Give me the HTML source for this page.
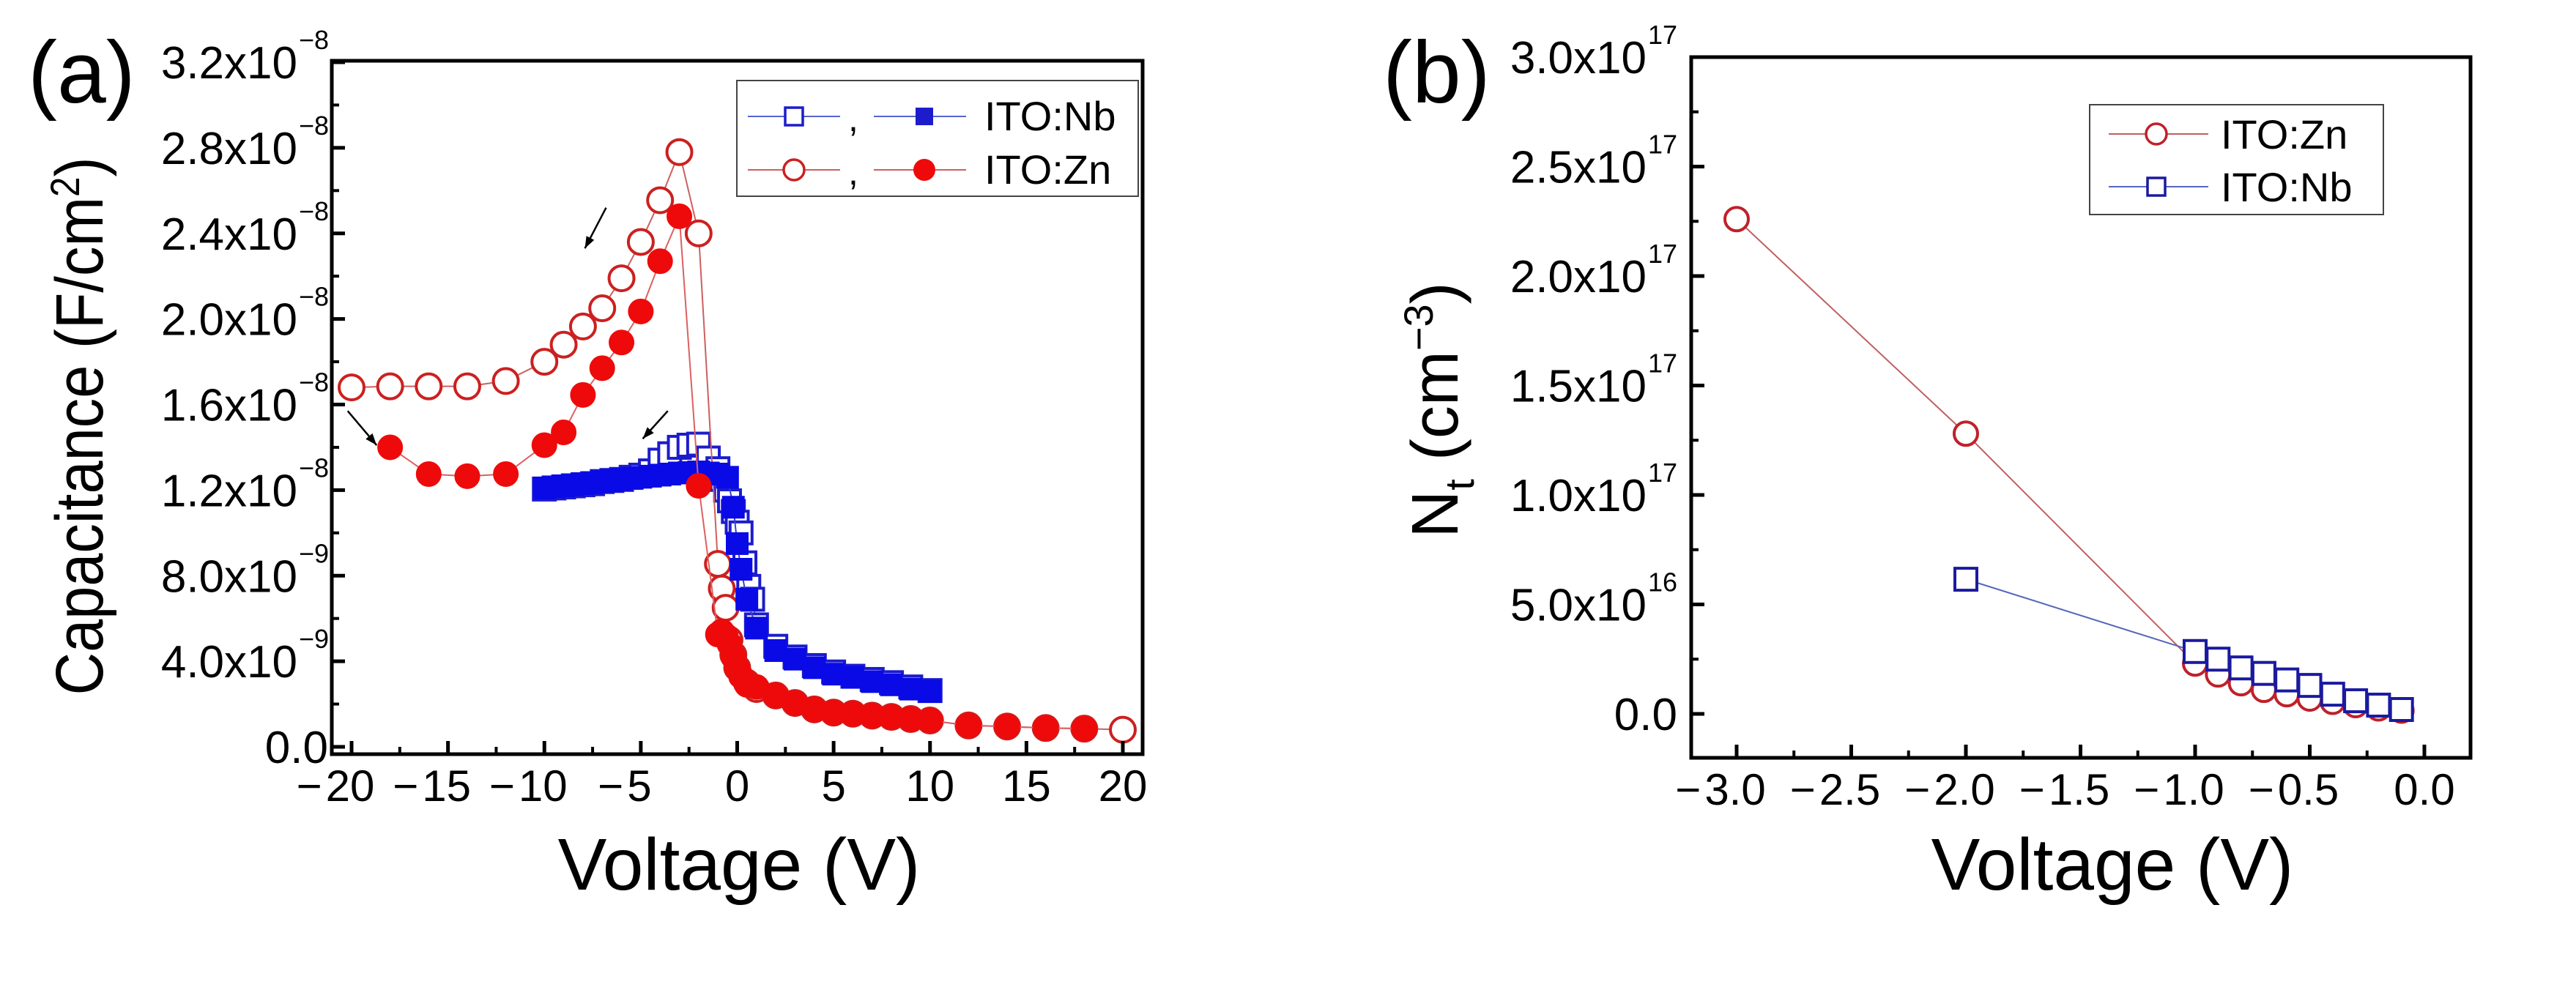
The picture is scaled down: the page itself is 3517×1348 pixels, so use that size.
<!DOCTYPE html>
<html><head><meta charset="utf-8"><style>
html,body{margin:0;padding:0;background:#fff;}
svg{display:block;font-family:"Liberation Sans",Arial,sans-serif;}
</style></head><body>
<svg id="fig" width="3517" height="1348" viewBox="0 0 3517 1348" xmlns="http://www.w3.org/2000/svg">
<rect width="3517" height="1348" fill="#fff"/>
<g id="pa"></g>
<g id="pb"></g>
</svg>
<script>
// ---- Panel (a) data: capacitance (units 1e-8 F/cm2) ----
const znOpenV = [-20,-18,-16,-14,-12,-10,-9,-8,-7,-6,-5,-4,-3,-2,-1,-0.8,-0.6,-0.4,-0.2,0,0.5,1,2,3,4,5,6,7,8,9,10,12,14,16,18,20];
const znOpenC = [1.68,1.685,1.685,1.685,1.71,1.80,1.88,1.965,2.05,2.19,2.36,2.555,2.78,2.40,0.855,0.74,0.65,0.50,0.43,0.37,0.30,0.27,0.24,0.205,0.175,0.16,0.155,0.146,0.14,0.13,0.123,0.10,0.095,0.088,0.085,0.08];
const znFillV = [-18,-16,-14,-12,-10,-9,-8,-7,-6,-5,-4,-3,-2,-1,-0.8,-0.6,-0.4,-0.2,0,0.2,0.5,1,2,3,4,5,6,7,8,9,10,12,14,16,18];
const znFillC = [1.40,1.275,1.265,1.275,1.41,1.47,1.645,1.77,1.89,2.035,2.27,2.48,1.22,0.525,0.54,0.52,0.48,0.42,0.365,0.33,0.29,0.28,0.24,0.205,0.175,0.16,0.155,0.146,0.14,0.13,0.123,0.10,0.095,0.088,0.085];
const nbOpenV = [-10,-9.5,-9,-8.5,-8,-7.5,-7,-6.5,-6,-5.5,-5,-4.5,-4,-3.5,-3,-2.5,-2,-1.5,-1,-0.8,-0.6,-0.4,-0.2,0,0.2,0.4,0.6,0.8,1,2,3,4,5,6,7,8,9,10];
const nbOpenC = [1.205,1.21,1.215,1.22,1.225,1.23,1.24,1.245,1.25,1.26,1.27,1.29,1.34,1.37,1.40,1.41,1.415,1.35,1.30,1.25,1.20,1.15,1.10,1.05,1.00,0.86,0.75,0.69,0.57,0.47,0.42,0.38,0.35,0.33,0.315,0.30,0.28,0.263];
const nbFillV = [-10,-9.5,-9,-8.5,-8,-7.5,-7,-6.5,-6,-5.5,-5,-4.5,-4,-3.5,-3,-2.5,-2,-1.5,-1,-0.5,-0.2,0,0.2,0.5,1,2,3,4,5,6,7,8,9,10];
const nbFillC = [1.21,1.215,1.22,1.225,1.23,1.235,1.24,1.245,1.25,1.255,1.26,1.265,1.27,1.275,1.28,1.282,1.285,1.28,1.275,1.26,1.12,0.95,0.83,0.69,0.555,0.45,0.41,0.37,0.34,0.325,0.305,0.29,0.27,0.26];
const aXTicks = [-20,-15,-10,-5,0,5,10,15,20];
const aXLabels = ["\u2212\u200a20","\u2212\u200a15","\u2212\u200a10","\u2212\u200a5","0","5","10","15","20"];
const aYTicks = [0,0.4,0.8,1.2,1.6,2.0,2.4,2.8,3.2];
const aYMant = ["0.0","4.0x10","8.0x10","1.2x10","1.6x10","2.0x10","2.4x10","2.8x10","3.2x10"];
const aYExp = ["","-9","-9","-8","-8","-8","-8","-8","-8"];
// ---- Panel (b) data: Nt (units 1e17 cm-3) ----
const bZnV = [-3,-2,-1,-0.9,-0.8,-0.7,-0.6,-0.5,-0.4,-0.3,-0.2,-0.1];
const bZnN = [2.26,1.28,0.23,0.18,0.14,0.11,0.09,0.07,0.055,0.04,0.025,0.015];
const bNbV = [-2,-1,-0.9,-0.8,-0.7,-0.6,-0.5,-0.4,-0.3,-0.2,-0.1];
const bNbN = [0.615,0.285,0.25,0.21,0.185,0.155,0.13,0.09,0.06,0.04,0.02];
const bXTicks = [-3,-2.5,-2,-1.5,-1,-0.5,0];
const bXLabels = ["\u2212\u200a3.0","\u2212\u200a2.5","\u2212\u200a2.0","\u2212\u200a1.5","\u2212\u200a1.0","\u2212\u200a0.5","0.0"];
const bYTicks = [0,0.5,1,1.5,2,2.5,3];
const bYMant = ["0.0","5.0x10","1.0x10","1.5x10","2.0x10","2.5x10","3.0x10"];
const bYExp = ["","16","17","17","17","17","17"];

const NS="http://www.w3.org/2000/svg";
function mk(tag,attrs,parent){const e=document.createElementNS(NS,tag);for(const k in attrs)e.setAttribute(k,attrs[k]);parent.appendChild(e);return e;}
function lin(d0,d1,r0,r1){return v=>r0+(v-d0)*(r1-r0)/(d1-d0);}

const ax=lin(-20,20,480,1533), ay=lin(0,3.2,1020,85);
const bx=lin(-3,0,2371,3310), by=lin(0,3,975,78);

function frame(g,x0,y0,x1,y1){
  const r=mk('rect',{x:x0,y:y0,width:x1-x0,height:y1-y0,fill:'none',stroke:'#000','stroke-width':5},g);
  
  
}
function xAxis(g,sx,ticks,labels,minorStep,y1,lo,hi){
  for(let i=0;i<ticks.length;i++){
    const x=sx(ticks[i]);
    const t=mk('line',{x1:x,x2:x,y1:y1,y2:y1-18,stroke:'#000','stroke-width':5},g);
    
    
    const l=mk('text',{x:x-(labels[i][0]=='\u2212'?22:0),y:y1+64,'font-size':60,'text-anchor':'middle',fill:'#000'},g);
    l.textContent=labels[i];
    
    
  }
  for(let v=lo;v<=hi+1e-9;v+=minorStep){
    if(ticks.some(t=>Math.abs(t-v)<1e-6))continue;
    const x=sx(v);
    const t=mk('line',{x1:x,x2:x,y1:y1,y2:y1-10,stroke:'#000','stroke-width':4},g);
    
    
  }
}
function yAxis(g,sy,ticks,mant,exps,minorStep,x0,lo,hi,labelRight){
  for(let i=0;i<ticks.length;i++){
    const y=sy(ticks[i]);
    const t=mk('line',{x1:x0,x2:x0+18,y1:y,y2:y,stroke:'#000','stroke-width':5},g);
    
    
    const l=mk('text',{x:exps[i]?labelRight-34:labelRight+8,y:y+22,'font-size':62,'text-anchor':'end',fill:'#000'},g);
    l.textContent=mant[i];
    
    
    if(exps[i]){
      const e=mk('text',{x:labelRight-32,y:y-18,'font-size':36,'text-anchor':'start',fill:'#000'},g);
      e.textContent=exps[i].replace('-','\u2212');
      
      
    }
  }
  for(let v=lo;v<=hi+1e-9;v+=minorStep){
    if(ticks.some(t=>Math.abs(t-v)<1e-6))continue;
    const y=sy(v);
    const t=mk('line',{x1:x0,x2:x0+10,y1:y,y2:y,stroke:'#000','stroke-width':4},g);
    
    
  }
}
function series(g,sx,sy,xs,ys,color,lineColor,kind,filled,r,name){
  const pts=xs.map((v,i)=>sx(v)+','+sy(ys[i])).join(' ');
  const pl=mk('polyline',{points:pts,fill:'none',stroke:lineColor,'stroke-width':2},g);
  
  
  for(let i=0;i<xs.length;i++){
    const x=sx(xs[i]),y=sy(ys[i]);let m;
    if(kind==='c') m=mk('circle',{cx:x,cy:y,r:r,fill:filled?color:'#fff',stroke:color,'stroke-width':filled?1:4},g);
    else m=mk('rect',{x:x-r,y:y-r,width:2*r,height:2*r,fill:filled?color:'#fff',stroke:color,'stroke-width':filled?1:4},g);
    
    
  }
}
function txt(g,x,y,s,size,name,extra){
  const t=mk('text',Object.assign({x:x,y:y,'font-size':size,fill:'#000'},extra||{}),g);
  t.textContent=s;
  
  
  return t;
}
function arrow(g,x1,y1,x2,y2){
  const l=mk('line',{x1:x1,y1:y1,x2:x2,y2:y2,stroke:'#000','stroke-width':2.5},g);
  
  
  const a=Math.atan2(y2-y1,x2-x1),L=16,W=6;
  const p=[[x2,y2],[x2-L*Math.cos(a)+W*Math.sin(a),y2-L*Math.sin(a)-W*Math.cos(a)],[x2-L*Math.cos(a)-W*Math.sin(a),y2-L*Math.sin(a)+W*Math.cos(a)]];
  const h=mk('polygon',{points:p.map(q=>q.join(',')).join(' '),fill:'#000'},g);
  
  
}

// ---- Panel A ----
const ga=document.getElementById('pa');
txt(ga,38,140,'(a)',120,'panel-a-label');
series(ga,ax,ay,nbOpenV,nbOpenC,'#1c1ccc','#5566cc','s',false,15,'nb-open');
series(ga,ax,ay,znOpenV,znOpenC,'#cc2020','#cc6060','c',false,17,'zn-open');
series(ga,ax,ay,nbFillV,nbFillC,'#0a0ae6','#3344cc','s',true,15,'nb-filled');
series(ga,ax,ay,znFillV,znFillC,'#ee0a0a','#dd6060','c',true,17,'zn-filled');
frame(ga,453,83,1560,1030);
xAxis(ga,ax,aXTicks,aXLabels,2.5,1030,-20,20);
yAxis(ga,ay,aYTicks,aYMant,aYExp,0.2,453,0,3.2,440);
arrow(ga,ax(-6.8),ay(2.52),ax(-7.9),ay(2.33));
arrow(ga,ax(-3.6),ay(1.57),ax(-4.9),ay(1.44));
arrow(ga,ax(-20.2),ay(1.57),ax(-18.7),ay(1.41));
const ya=txt(ga,140,582,'Capacitance (F/cm',92,'y-axis-title-a',{'text-anchor':'middle',transform:'rotate(-90 140 582)',textLength:735,lengthAdjust:'spacingAndGlyphs'});
const sp=document.createElementNS(NS,'tspan');sp.setAttribute('dy','-32');sp.setAttribute('font-size','56');sp.textContent='2';ya.appendChild(sp);
const sp2=document.createElementNS(NS,'tspan');sp2.setAttribute('dy','32');sp2.textContent=')';ya.appendChild(sp2);
txt(ga,1009,1215,'Voltage (V)',100,'x-axis-title-a',{'text-anchor':'middle'});
// legend a
const la=mk('g',{},ga);


mk('rect',{x:1006,y:110,width:548,height:158,fill:'#fff',stroke:'#444','stroke-width':2},la);
[[159,'#1c1ccc','#5566cc','s','ITO:Nb'],[232,'#cc2020','#cc6060','c','ITO:Zn']].forEach(r=>{
  const y=r[0];
  mk('line',{x1:1021,x2:1147,y1:y,y2:y,stroke:r[2],'stroke-width':2},la);
  mk('line',{x1:1193,x2:1319,y1:y,y2:y,stroke:r[2],'stroke-width':2},la);
  if(r[3]==='s'){mk('rect',{x:1072,y:y-12,width:24,height:24,fill:'#fff',stroke:r[1],'stroke-width':3.5},la);mk('rect',{x:1250,y:y-12,width:24,height:24,fill:r[1]},la);}
  else{mk('circle',{cx:1084,cy:y,r:14,fill:'#fff',stroke:r[1],'stroke-width':3.5},la);mk('circle',{cx:1262,cy:y,r:15,fill:'#ee0a0a'},la);}
  txt(la,1158,y+20,',',50,'legend-comma');
  txt(la,1344,y+19,r[4],56,'legend-entry-text');
});

// ---- Panel B ----
const gb=document.getElementById('pb');
txt(gb,1888,140,'(b)',120,'panel-b-label');
series(gb,bx,by,bZnV,bZnN,'#c0202a','#c06060','c',false,16,'zn-nt');
series(gb,bx,by,bNbV,bNbN,'#1a1aa0','#5566bb','s',false,15,'nb-nt');
frame(gb,2309,78,3373,1035);
xAxis(gb,bx,bXTicks,bXLabels,0.25,1035,-3,0);
yAxis(gb,by,bYTicks,bYMant,bYExp,0.25,2309,0,3,2282);
const yb=txt(gb,1990,560,'N',90,'y-axis-title-b',{'text-anchor':'middle',transform:'rotate(-90 1990 560)'});
[['t','56','22'],[' (cm',null,'-22'],['\u2212','56','-34'],['3','56','0'],[')',null,'34']].forEach(p=>{
  const s=document.createElementNS(NS,'tspan');if(p[1])s.setAttribute('font-size',p[1]);s.setAttribute('dy',p[2]);s.textContent=p[0];yb.appendChild(s);
});
txt(gb,2884,1215,'Voltage (V)',100,'x-axis-title-b',{'text-anchor':'middle'});
const lb=mk('g',{},gb);


mk('rect',{x:2853,y:143,width:401,height:150,fill:'#fff',stroke:'#444','stroke-width':2},lb);
mk('line',{x1:2879,x2:3015,y1:183,y2:183,stroke:'#c06060','stroke-width':2},lb);
mk('circle',{cx:2944,cy:183,r:14,fill:'#fff',stroke:'#c0202a','stroke-width':3.5},lb);
mk('line',{x1:2879,x2:3015,y1:255,y2:255,stroke:'#5566bb','stroke-width':2},lb);
mk('rect',{x:2932,y:243,width:24,height:24,fill:'#fff',stroke:'#1a1aa0','stroke-width':3.5},lb);
txt(lb,3032,203,'ITO:Zn',56,'legend-entry-text');
txt(lb,3032,275,'ITO:Nb',56,'legend-entry-text');
</script>
</body></html>
